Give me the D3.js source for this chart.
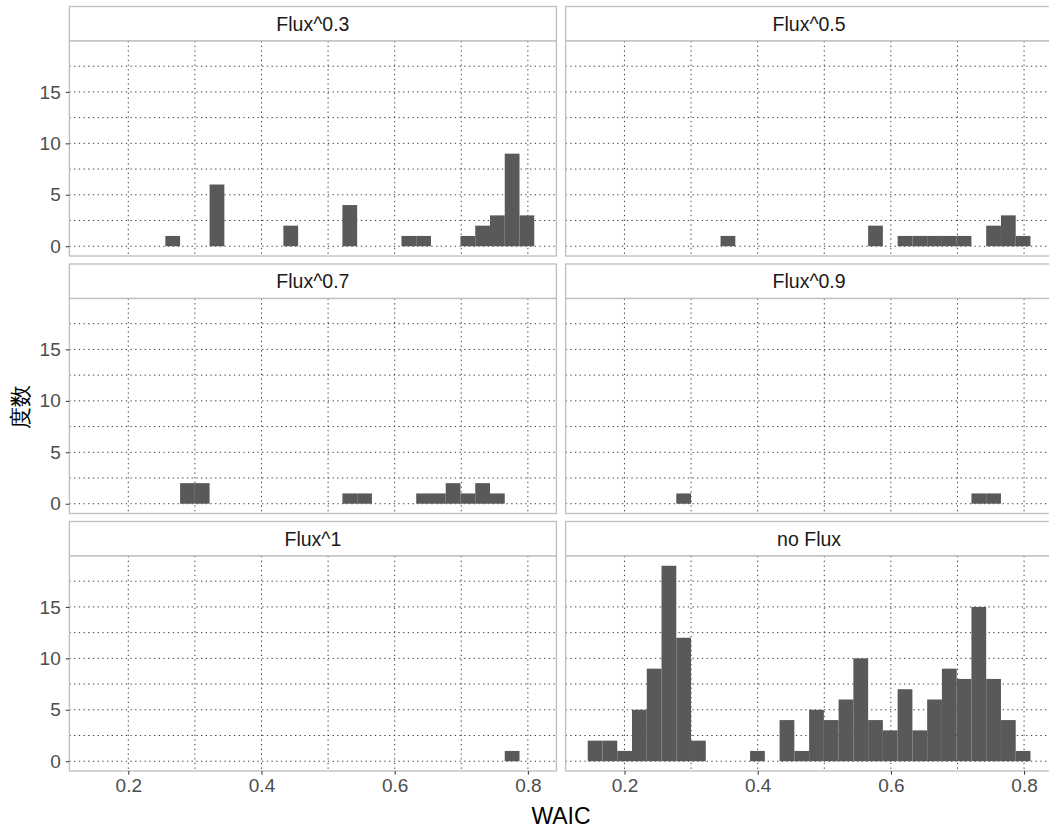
<!DOCTYPE html>
<html><head><meta charset="utf-8">
<script src="https://cdn.jsdelivr.net/npm/d3@7"></script>
<style>body{margin:0;background:#fff}svg{display:block}text{font-family:"Liberation Sans",Arial,sans-serif}</style>
</head><body><div id="chart"></div>
<script>
const facets = ["Flux^0.3","Flux^0.5","Flux^0.7","Flux^0.9","Flux^1","no Flux"];
const binStart = 0.1448, binWidth = 0.02216;
const counts03 = [0,0,0,0,0,1,0,0,6,0,0,0,0,2,0,0,0,4,0,0,0,1,1,0,0,1,2,3,9,3];
const counts05 = [0,0,0,0,0,0,0,0,0,1,0,0,0,0,0,0,0,0,0,2,0,1,1,1,1,1,0,2,3,1];
const counts07 = [0,0,0,0,0,0,2,2,0,0,0,0,0,0,0,0,0,1,1,0,0,0,1,1,2,1,2,1,0,0];
const counts09 = [0,0,0,0,0,0,1,0,0,0,0,0,0,0,0,0,0,0,0,0,0,0,0,0,0,0,1,1,0,0];
const counts1  = [0,0,0,0,0,0,0,0,0,0,0,0,0,0,0,0,0,0,0,0,0,0,0,0,0,0,0,0,1,0];
const countsNo = [2,2,1,5,9,19,12,2,0,0,0,1,0,4,1,5,4,6,10,4,3,7,3,6,9,8,15,8,4,1];
const xTicks = [0.2,0.4,0.6,0.8];
const xMinor = [0.3,0.5,0.7];
const yTicks = [0,5,10,15];
const yMinor = [2.5,7.5,12.5,17.5];
const series = [counts03,counts05,counts07,counts09,counts1,countsNo];

const W = 1049, H = 832;
const svg = d3.select("#chart").append("svg").attr("width",W).attr("height",H);
const panelW = 487, panelH = 215, stripH = 34.5;
const colX = [69.4, 565.6];
const rowTop = [6.5, 264, 521.5];

const nb = countsNo.length;
const xMin = binStart, xMax = binStart + nb*binWidth;
const xPad = (xMax-xMin)*0.05;
const x = d3.scaleLinear().domain([xMin-xPad, xMax+xPad]).range([0,panelW]);
const yMax = 19, yPad = yMax*0.05;
const y = d3.scaleLinear().domain([-yPad, yMax+yPad]).range([panelH,0]);

const gridCol = "#3a3a3a", borderCol = "#bdbdbd";

facets.forEach((name,i)=>{
  const c = i%2, r = Math.floor(i/2);
  const g = svg.append("g").attr("transform",`translate(${colX[c]},${rowTop[r]})`);
  g.append("rect").attr("x",0).attr("y",0).attr("width",panelW).attr("height",stripH)
    .attr("fill","#fff").attr("stroke",borderCol).attr("stroke-width",1.3);
  g.append("text").attr("x",panelW/2).attr("y",stripH/2).attr("dy","0.35em")
    .attr("text-anchor","middle").attr("font-size",19.5).attr("fill","#1a1a1a").text(name);
  const p = g.append("g").attr("transform",`translate(0,${stripH})`);
  p.append("rect").attr("width",panelW).attr("height",panelH).attr("fill","#fff");
  const dash = "1.3,3.4";
  p.selectAll(".hg").data(yTicks.concat(yMinor)).join("line")
    .attr("x1",0).attr("x2",panelW).attr("y1",d=>y(d)).attr("y2",d=>y(d))
    .attr("stroke",gridCol).attr("stroke-width",1).attr("stroke-dasharray",dash);
  p.selectAll(".vg").data(xTicks.concat(xMinor)).join("line")
    .attr("y1",0).attr("y2",panelH).attr("x1",d=>x(d)).attr("x2",d=>x(d))
    .attr("stroke",gridCol).attr("stroke-width",1).attr("stroke-dasharray",dash);
  const data = series[i].map((v,k)=>({k,v})).filter(d=>d.v>0);
  p.selectAll(".bar").data(data).join("rect")
    .attr("x",d=>x(binStart+d.k*binWidth))
    .attr("width",d=>x(binStart+(d.k+1)*binWidth)-x(binStart+d.k*binWidth))
    .attr("y",d=>y(d.v)).attr("height",d=>y(0)-y(d.v))
    .attr("fill","#595959");
  p.append("rect").attr("width",panelW).attr("height",panelH)
    .attr("fill","none").attr("stroke",borderCol).attr("stroke-width",1.3);
  if (c===0){
    const ay = p.append("g").call(d3.axisLeft(y).tickValues(yTicks).tickSize(3.7).tickPadding(5));
    ay.select(".domain").remove();
    ay.selectAll("line").attr("stroke","#333");
    ay.selectAll("text").attr("font-size",19).attr("fill","#4d4d4d")
      .attr("font-family","'Liberation Sans',Arial,sans-serif");
  }
  if (r===2){
    const ax = p.append("g").attr("transform",`translate(0,${panelH})`)
      .call(d3.axisBottom(x).tickValues(xTicks).tickFormat(d3.format(".1f")).tickSize(3.7).tickPadding(4));
    ax.select(".domain").remove();
    ax.selectAll("line").attr("stroke","#333");
    ax.selectAll("text").attr("font-size",19).attr("fill","#4d4d4d")
      .attr("font-family","'Liberation Sans',Arial,sans-serif");
  }
});

svg.append("text").attr("x",(colX[0]+colX[1]+panelW)/2).attr("y",816).attr("dy","0.35em")
  .attr("text-anchor","middle").attr("font-size",23).attr("fill","#000").text("WAIC");
svg.append("text").attr("transform",`translate(20,407) rotate(-90)`).attr("dy","0.35em")
  .attr("text-anchor","middle").attr("font-size",22).attr("fill","#000")
  .attr("font-family","'Noto Sans CJK SC',sans-serif").text("度数");
</script></body></html>
